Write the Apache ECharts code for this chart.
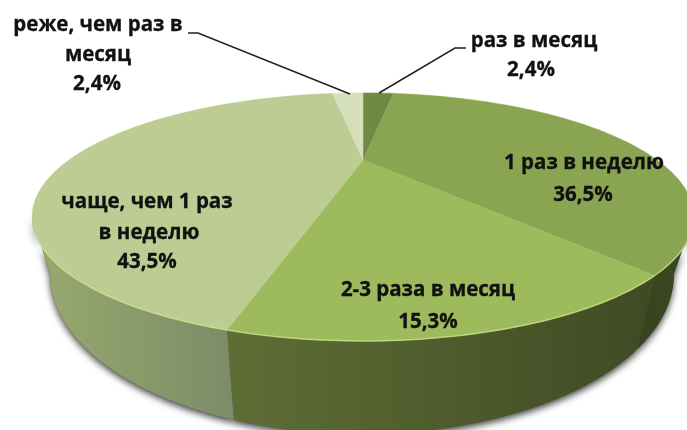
<!DOCTYPE html>
<html>
<head>
<meta charset="utf-8">
<script src="https://cdn.jsdelivr.net/npm/echarts@6/dist/echarts.min.js"></script>
<style>
html, body { margin: 0; padding: 0; background: #fff; }
#chart { width: 687px; height: 430px; filter: blur(0.45px); }
</style>
</head>
<body>
<div id="chart"></div>
<script>
// values, clockwise from the top
const categories = ['раз в месяц', '1 раз в неделю', '2-3 раза в месяц', 'чаще, чем 1 раз\nв неделю', 'реже, чем раз в\nмесяц'];
const shares = [2.4, 36.5, 15.3, 43.5, 2.4];
const topColors = ['#6f8a43', '#8aa551', '#9dbb5d', '#bccc93', '#d5dfbc'];
const wallColors = [
  ['#4a5a2a', '#4a5a2a'],
  ['#384220', '#3c4722'],
  ['#5f6e36', '#3f4a23'],
  ['#98aa6e', '#7c8c68'],
  ['#a9b68c', '#a9b68c']
];

// the pie is drawn in perspective, echarts has no such pie so it is a custom series
const apexX = 363, apexY = 160, persp = 0.459, diskX = 294, diskY = 97.9;
const topCx = 363, topCy = 217, topRx = 331, topRy = 124;
const baseCx = 362, baseCy = 274, baseRx = 312, baseRy = 160;
const nearFrom = Math.acos(-persp), nearTo = 2 * Math.PI - nearFrom;

function rimPoint(a) {
  const u = Math.sin(a), v = -Math.cos(a), w = 1 - persp * v;
  return [apexX + diskX * u / w, apexY + diskY * v / w];
}
function basePoint(p) {
  const ex = (p[0] - topCx) / topRx, ey = (p[1] - topCy) / topRy;
  return [baseCx + baseRx * ex, baseCy + baseRy * ey];
}
function arc(a0, a1) {
  const pts = [], n = Math.max(2, Math.ceil(Math.abs(a1 - a0) * 60));
  for (let i = 0; i <= n; i++) pts.push(rimPoint(a0 + (a1 - a0) * i / n));
  return pts;
}

let sum = 0;
const total = shares.reduce((a, b) => a + b, 0);
const rows = shares.map(function (s) {
  const a0 = sum / total * 2 * Math.PI;
  sum += s;
  return [a0, sum / total * 2 * Math.PI];
});

function wallPoints(i) {
  const a0 = Math.max(rows[i][0], nearFrom), a1 = Math.min(rows[i][1], nearTo);
  if (a1 <= a0) return null;
  const rim = arc(a0, a1);
  return rim.concat(rim.map(basePoint).reverse());
}
function renderShadow(params) {
  const pts = wallPoints(params.dataIndex);
  if (!pts) return null;
  return { type: 'polygon', shape: { points: pts }, style: { fill: '#555', shadowColor: 'rgba(0,0,0,0.75)', shadowBlur: 7, shadowOffsetY: 3 } };
}
function renderWall(params) {
  const pts = wallPoints(params.dataIndex);
  if (!pts) return null;
  const c = wallColors[params.dataIndex];
  return {
    type: 'polygon',
    shape: { points: pts },
    style: { fill: new echarts.graphic.LinearGradient(0, 0, 1, 0, [{ offset: 0, color: c[0] }, { offset: 1, color: c[1] }]) }
  };
}
function renderTop(params) {
  const i = params.dataIndex;
  const rim = arc(rows[i][0], rows[i][1]);
  // highlight stops short of the side tips, the wall has no height there
  const a0 = Math.max(rows[i][0], nearFrom + 0.12), a1 = Math.min(rows[i][1], nearTo - 0.12);
  const children = [{
    type: 'polygon',
    shape: { points: [[apexX, apexY]].concat(rim) },
    style: { fill: topColors[i], stroke: topColors[i], lineWidth: 0.5 }
  }];
  if (a1 > a0) {
    children.push({
      type: 'polyline',
      shape: { points: arc(a0, a1) },
      style: { fill: null, stroke: 'rgba(210,232,140,0.7)', lineWidth: 1.5 }
    });
  }
  return { type: 'group', children: children };
}

function pct(i) {
  return shares[i].toFixed(1).replace('.', ',') + '%';
}
const labelFont = { fontFamily: 'Open Sans', fontWeight: 'bold', fontSize: 20.5, fill: '#111', stroke: '#111', lineWidth: 0.3, textAlign: 'center', textVerticalAlign: 'middle' };
function label(text, x, y) {
  return { type: 'text', x: x, y: y, z: 10, silent: true, style: Object.assign({ text: text }, labelFont) };
}
function leader(points) {
  return { type: 'polyline', z: 9, silent: true, shape: { points: points }, style: { fill: null, stroke: '#222', lineWidth: 1.5 } };
}
const labelLines = categories.map(c => c.split('\n'));

const chart = echarts.init(document.getElementById('chart'), null, { renderer: 'canvas' });
chart.setOption({
  animation: false,
  backgroundColor: '#fff',
  series: [
    { type: 'custom', coordinateSystem: 'none', silent: true, z: 1, clip: false, data: rows, renderItem: renderShadow },
    { type: 'custom', coordinateSystem: 'none', silent: true, z: 2, clip: false, data: rows, renderItem: renderWall },
    { type: 'custom', coordinateSystem: 'none', silent: true, z: 3, clip: false, data: rows, renderItem: renderTop }
  ],
  graphic: [
    leader([[188, 33], [198, 33], [350, 94]]),
    leader([[466, 48], [455, 48], [379, 93]]),
    label(labelLines[0][0], 534, 41),
    label(pct(0), 531, 70),
    label(labelLines[1][0], 584, 163),
    label(pct(1), 583, 195),
    label(labelLines[2][0], 428, 290),
    label(pct(2), 428, 322),
    label(labelLines[3][0], 147, 202),
    label(labelLines[3][1], 149, 233),
    label(pct(3), 147, 262),
    label(labelLines[4][0], 98, 25),
    label(labelLines[4][1], 98, 55),
    label(pct(4), 97, 84)
  ]
});
</script>
</body>
</html>
